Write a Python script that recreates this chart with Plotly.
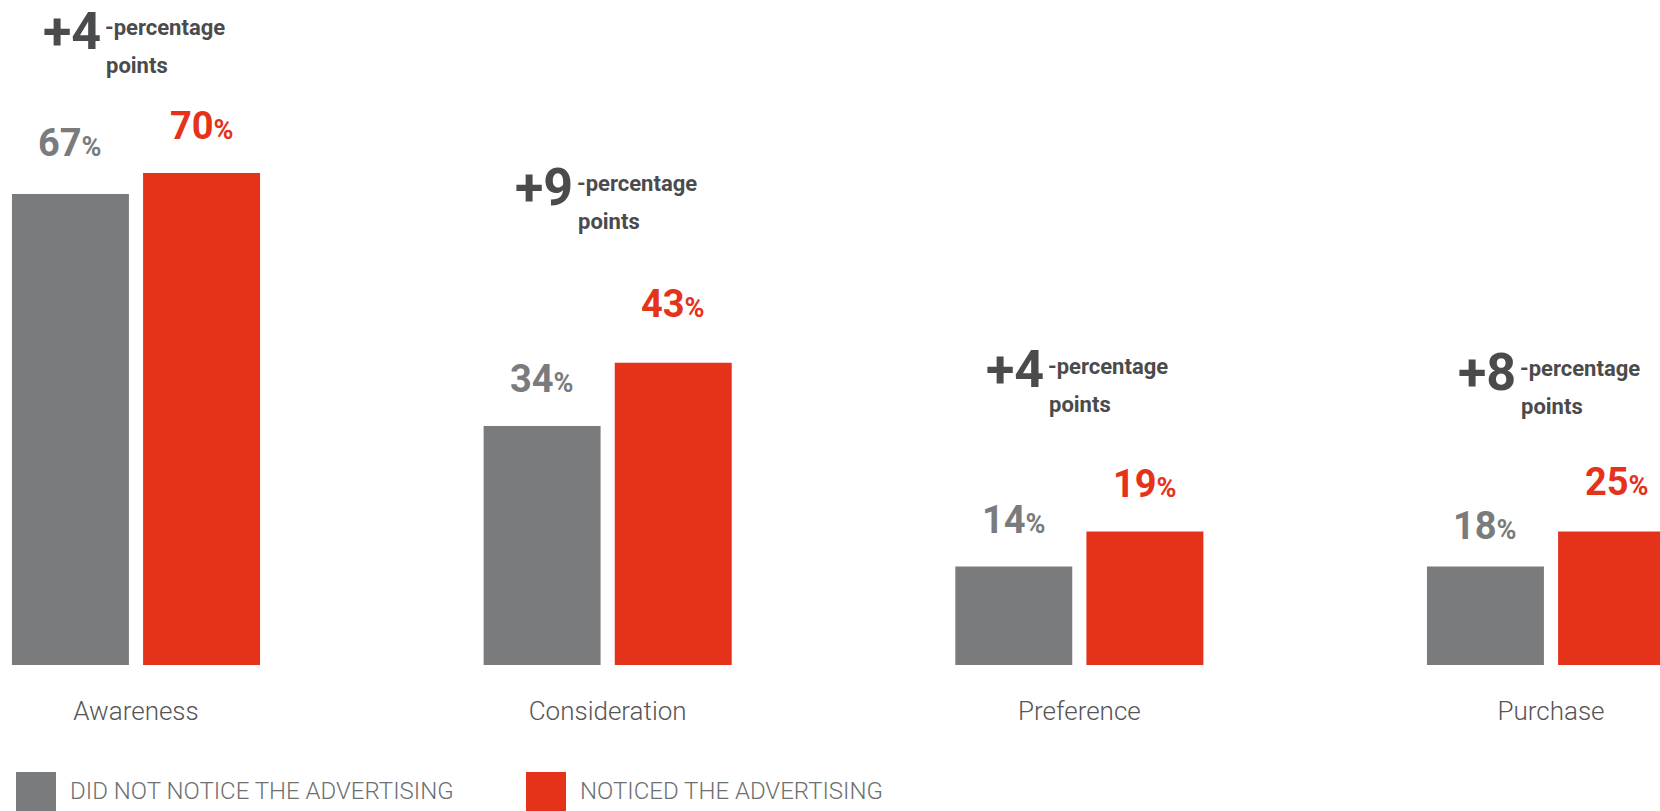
import plotly.graph_objects as go

# ---------------- data ----------------
categories = ["Awareness", "Consideration", "Preference", "Purchase"]
series_names = ["DID NOT NOTICE THE ADVERTISING", "NOTICED THE ADVERTISING"]
# bar heights as drawn in the source graphic
did_not_notice_bar = [67, 34, 14, 14]
noticed_bar = [70, 43, 19, 19]
# printed value labels
did_not_notice_label = [67, 34, 14, 18]
noticed_label = [70, 43, 19, 25]
# printed percentage-point differences
delta_points = [4, 9, 4, 8]

# ---------------- styling / layout ----------------
GRAY = "#7a7b7d"
RED = "#e5321b"
DARK = "#4b4b4d"
FONT = "Roboto"
W, H = 1660, 811
PLOT_BOTTOM_PX = 665           # pixel row of the bar baseline
PX_PER_UNIT = 7.03
BAR_W = 0.248
GRAY_OFF = -0.263
RED_OFF = 0.015
delta_label_y = [87.5, 65.3, 39.3, 39.0]   # baseline of "+N" text (axis units)
gray_label_gap = [37, 33, 33, 27]          # px between label baseline and bar top
red_label_gap = [33, 45, 34, 36]

x_idx = list(range(len(categories)))

fig = go.Figure()
fig.add_trace(go.Bar(x=x_idx, y=did_not_notice_bar, name=series_names[0],
                     marker=dict(color=GRAY, line=dict(width=0)),
                     width=BAR_W, offset=GRAY_OFF, hoverinfo="skip"))
fig.add_trace(go.Bar(x=x_idx, y=noticed_bar, name=series_names[1],
                     marker=dict(color=RED, line=dict(width=0)),
                     width=BAR_W, offset=RED_OFF, hoverinfo="skip"))

annotations = []
VAL_SIZE = 38
PCT_SIZE = 27
BIG = 52
SMALL = 22
for i in x_idx:
    for heights, labels, off, col, gaps in (
        (did_not_notice_bar, did_not_notice_label, GRAY_OFF, GRAY, gray_label_gap),
        (noticed_bar, noticed_label, RED_OFF, RED, red_label_gap),
    ):
        annotations.append(dict(
            x=i + off + BAR_W / 2, y=heights[i], xref="x", yref="y",
            text=f"{labels[i]}<span style='font-size:{PCT_SIZE}px'>%</span>",
            showarrow=False, xanchor="center", yanchor="bottom",
            yshift=gaps[i] - (0.244 * VAL_SIZE + 1),
            font=dict(family=FONT, size=VAL_SIZE, color=col, weight=700),
        ))
    # delta block
    annotations.append(dict(
        x=i, y=delta_label_y[i], xref="x", yref="y",
        text=f"+{delta_points[i]}", showarrow=False,
        xanchor="right", yanchor="bottom", xshift=-33,
        yshift=-(0.244 * BIG + 1),
        font=dict(family=FONT, size=BIG, color=DARK, weight=700),
    ))
    annotations.append(dict(
        x=i, y=delta_label_y[i], xref="x", yref="y",
        text="-percentage", showarrow=False,
        xanchor="left", yanchor="bottom", xshift=-33,
        yshift=14 - (0.244 * SMALL + 1),
        font=dict(family=FONT, size=SMALL, color=DARK, weight=700),
    ))
    annotations.append(dict(
        x=i, y=delta_label_y[i], xref="x", yref="y",
        text="points", showarrow=False,
        xanchor="center", yanchor="bottom", xshift=1,
        yshift=-24 - (0.244 * SMALL + 1),
        font=dict(family=FONT, size=SMALL, color=DARK, weight=700),
    ))

# legend drawn manually (large square swatches)
def py(px):
    return (PLOT_BOTTOM_PX - px) / PLOT_BOTTOM_PX

shapes = []
legend_items = [(series_names[0], GRAY, 16), (series_names[1], RED, 526)]
for name, col, x0 in legend_items:
    shapes.append(dict(type="rect", xref="paper", yref="paper",
                       x0=x0 / W, x1=(x0 + 40) / W, y0=py(812), y1=py(772),
                       fillcolor=col, line=dict(width=0), layer="above"))
    annotations.append(dict(
        x=(x0 + 52) / W, y=py(791), xref="paper", yref="paper",
        text=name, showarrow=False, xanchor="left", yanchor="middle",
        font=dict(family=FONT, size=24, color="#6e6f71", weight=300),
    ))

x_left = -(136.0) / 471.67
x_right = (W - 136.0) / 471.67

fig.update_layout(
    width=W, height=H,
    margin=dict(l=0, r=0, t=0, b=H - PLOT_BOTTOM_PX, pad=0),
    paper_bgcolor="white", plot_bgcolor="white",
    barmode="overlay", showlegend=False,
    xaxis=dict(range=[x_left, x_right], tickvals=x_idx, ticktext=categories,
               showgrid=False, zeroline=False, showline=False, ticks="",
               ticklabelstandoff=28,
               tickfont=dict(family=FONT, size=26, color="#555555", weight=300),
               fixedrange=True),
    yaxis=dict(range=[0, PLOT_BOTTOM_PX / PX_PER_UNIT], visible=False,
               fixedrange=True),
    annotations=annotations, shapes=shapes,
)

fig.write_html(
    "out.html",
    config={"displayModeBar": False},
    post_script="document.body.style.margin='0px';"
                "document.body.style.overflow='hidden';",
)
